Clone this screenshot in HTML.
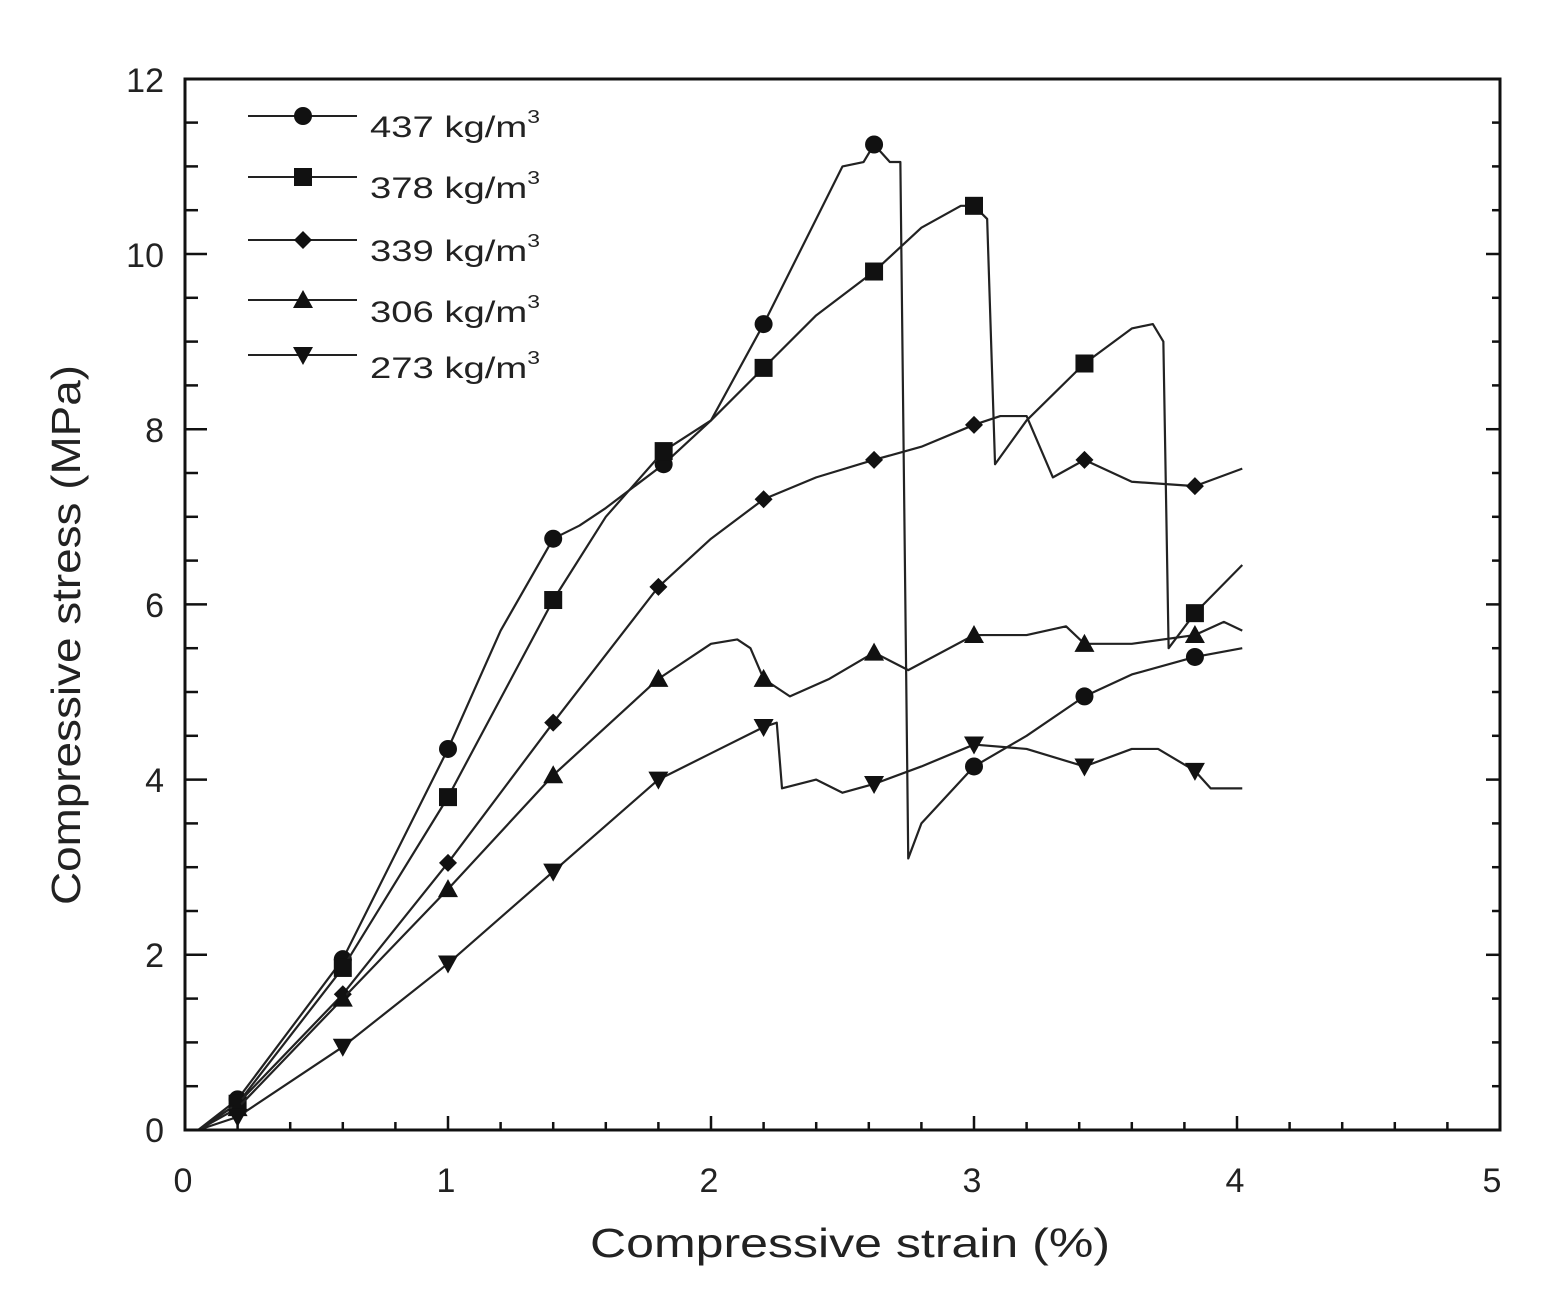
<!DOCTYPE html>
<html><head><meta charset="utf-8"><style>
html,body{margin:0;padding:0;background:#fff;}
svg text{font-family:"Liberation Sans",sans-serif;fill:#222;}
</style></head><body>
<svg id="s" width="1546" height="1304" viewBox="0 0 1546 1304" xmlns="http://www.w3.org/2000/svg">
<rect width="1546" height="1304" fill="#fff"/>
<g id="ax"></g>
<g id="data"></g>
<rect x="185" y="79" width="1315" height="1051" fill="none" stroke="#111" stroke-width="3"/>
<g font-size="34" text-anchor="middle">
<text x="183" y="1192">0</text><text x="446" y="1192">1</text><text x="709" y="1192">2</text><text x="972" y="1192">3</text><text x="1235" y="1192">4</text><text x="1492" y="1192">5</text>
</g>
<g font-size="34" text-anchor="end">
<text x="164" y="1142">0</text><text x="164" y="967">2</text><text x="164" y="792">4</text><text x="164" y="617">6</text><text x="164" y="442">8</text><text x="164" y="267">10</text><text x="164" y="92">12</text>
</g>
<text x="590" y="1257" font-size="41" textLength="520" lengthAdjust="spacingAndGlyphs">Compressive strain (%)</text>
<text transform="translate(80,905) rotate(-90)" font-size="41" textLength="540" lengthAdjust="spacingAndGlyphs">Compressive stress (MPa)</text>
<g font-size="30">
<text x="370" y="137" textLength="170" lengthAdjust="spacingAndGlyphs">437 kg/m<tspan font-size="18" dy="-14">3</tspan></text>
<text x="370" y="198" textLength="170" lengthAdjust="spacingAndGlyphs">378 kg/m<tspan font-size="18" dy="-14">3</tspan></text>
<text x="370" y="261" textLength="170" lengthAdjust="spacingAndGlyphs">339 kg/m<tspan font-size="18" dy="-14">3</tspan></text>
<text x="370" y="322" textLength="170" lengthAdjust="spacingAndGlyphs">306 kg/m<tspan font-size="18" dy="-14">3</tspan></text>
<text x="370" y="378" textLength="170" lengthAdjust="spacingAndGlyphs">273 kg/m<tspan font-size="18" dy="-14">3</tspan></text>
</g>
</svg>
<script>
var NS="http://www.w3.org/2000/svg";
function X(v){return 185+263*v;} function Y(s){return 1130-87.6*s;}
function el(t,a,p){var e=document.createElementNS(NS,t);for(var k in a)e.setAttribute(k,a[k]);(p||document.getElementById('data')).appendChild(e);return e;}
var ax=document.getElementById('ax');
for(var v=0;v<=5.001;v+=0.2){var maj=Math.abs(v-Math.round(v))<0.01;var x=X(v);
 el('line',{x1:x,x2:x,y1:1130,y2:1130-(maj?14:8),stroke:'#111','stroke-width':2.5},ax);}
for(var s=0;s<=12.001;s+=0.5){var maj=Math.abs(s/2-Math.round(s/2))<0.01;var y=Y(s);
 el('line',{x1:185,x2:185+(maj?22:13),y1:y,y2:y,stroke:'#111','stroke-width':2.5},ax);
 el('line',{x1:1500,x2:1500-(maj?14:8),y1:y,y2:y,stroke:'#111','stroke-width':2.5},ax);}
function marker(type,x,y){
 if(type=='c')el('circle',{cx:x,cy:y,r:9,fill:'#111'});
 else if(type=='s')el('rect',{x:x-9,y:y-9,width:18,height:18,fill:'#111'});
 else if(type=='d')el('polygon',{points:[x,y-9,x+9,y,x,y+9,x-9,y].join(' '),fill:'#111'});
 else if(type=='u')el('polygon',{points:[x,y-10,x+10,y+8,x-10,y+8].join(' '),fill:'#111'});
 else el('polygon',{points:[x,y+10,x+10,y-8,x-10,y-8].join(' '),fill:'#111'});
}
var series=[
['c',[[0.05,0],[0.2,0.35],[0.6,1.95],[1.0,4.35],[1.2,5.7],[1.4,6.75],[1.5,6.9],[1.6,7.1],[1.82,7.6],[2.0,8.1],[2.2,9.2],[2.4,10.4],[2.5,11],[2.58,11.05],[2.62,11.25],[2.68,11.05],[2.72,11.05],[2.75,3.1],[2.8,3.5],[3.0,4.15],[3.2,4.5],[3.42,4.95],[3.6,5.2],[3.84,5.4],[4.02,5.5]],[0.2,0.6,1.0,1.4,1.82,2.2,2.62,3.0,3.42,3.84]],
['s',[[0.05,0],[0.2,0.3],[0.6,1.85],[1.0,3.8],[1.4,6.05],[1.6,7.0],[1.82,7.75],[2.0,8.1],[2.2,8.7],[2.4,9.3],[2.62,9.8],[2.8,10.3],[2.95,10.55],[3.0,10.55],[3.05,10.4],[3.08,7.6],[3.2,8.1],[3.42,8.75],[3.6,9.15],[3.68,9.2],[3.72,9.0],[3.74,5.5],[3.84,5.9],[4.02,6.45]],[0.2,0.6,1.0,1.4,1.82,2.2,2.62,3.0,3.42,3.84]],
['d',[[0.05,0],[0.2,0.3],[0.6,1.55],[1.0,3.05],[1.4,4.65],[1.8,6.2],[2.0,6.75],[2.2,7.2],[2.4,7.45],[2.62,7.65],[2.8,7.8],[3.0,8.05],[3.1,8.15],[3.2,8.15],[3.3,7.45],[3.42,7.65],[3.6,7.4],[3.84,7.35],[4.02,7.55]],[0.2,0.6,1.0,1.4,1.8,2.2,2.62,3.0,3.42,3.84]],
['u',[[0.05,0],[0.2,0.25],[0.6,1.5],[1.0,2.75],[1.4,4.05],[1.8,5.15],[2.0,5.55],[2.1,5.6],[2.15,5.5],[2.2,5.15],[2.3,4.95],[2.45,5.15],[2.62,5.45],[2.75,5.25],[3.0,5.65],[3.2,5.65],[3.35,5.75],[3.42,5.55],[3.6,5.55],[3.84,5.65],[3.95,5.8],[4.02,5.7]],[0.2,0.6,1.0,1.4,1.8,2.2,2.62,3.0,3.42,3.84]],
['v',[[0.05,0],[0.2,0.15],[0.6,0.95],[1.0,1.9],[1.4,2.95],[1.8,4.0],[2.0,4.3],[2.2,4.6],[2.25,4.65],[2.27,3.9],[2.4,4.0],[2.5,3.85],[2.62,3.95],[2.8,4.15],[3.0,4.4],[3.2,4.35],[3.42,4.15],[3.6,4.35],[3.7,4.35],[3.84,4.1],[3.9,3.9],[4.02,3.9]],[0.2,0.6,1.0,1.4,1.8,2.2,2.62,3.0,3.42,3.84]]
];
series.forEach(function(sr){
 var pts=sr[1];
 el('polyline',{points:pts.map(function(p){return X(p[0])+','+Y(p[1]);}).join(' '),fill:'none',stroke:'#222','stroke-width':2.2,'stroke-linejoin':'round'});
 pts.forEach(function(p){if(sr[2].some(function(m){return Math.abs(m-p[0])<0.001;}))marker(sr[0],X(p[0]),Y(p[1]));});
});
var ly=[116,177,240,300,355],lt=['c','s','d','u','v'];
for(var i=0;i<5;i++){el('line',{x1:248,x2:357,y1:ly[i],y2:ly[i],stroke:'#222','stroke-width':2});marker(lt[i],303,ly[i]);}
</script>
</body></html>
